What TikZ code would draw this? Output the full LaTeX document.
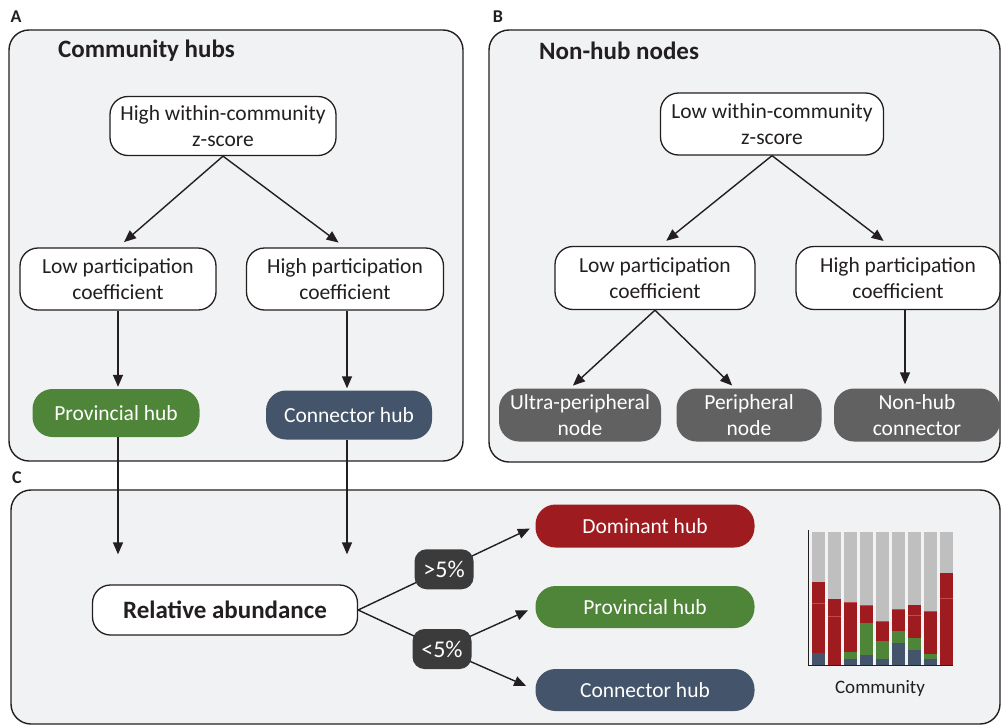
\documentclass[tikz,border=0pt]{standalone}
\usepackage{fontspec}
\setmainfont{Carlito}
\usetikzlibrary{arrows.meta}
\definecolor{hubred}{HTML}{9E1C20}
\definecolor{hubgreen}{HTML}{4F8538}
\definecolor{hubslate}{HTML}{44546A}
\definecolor{nodegrey}{HTML}{616161}
\definecolor{pillgrey}{HTML}{3B3B3B}
\definecolor{panelfill}{HTML}{F1F2F4}
\definecolor{bargrey}{HTML}{BFBFBF}
\definecolor{ink}{HTML}{231F20}
\definecolor{redline}{HTML}{C4474B}
\tikzset{
  panel/.style={draw=ink, line width=1.4pt, fill=panelfill, rounded corners=20pt},
  wbox/.style={draw=ink, line width=1.3pt, fill=white, rounded corners=18pt, align=center,
    font=\fontsize{21.5}{25.5}\selectfont, text=ink, inner sep=0pt},
  cbox/.style={rounded corners=20pt, align=center, font=\fontsize{21.5}{25.5}\selectfont,
    text=white, inner sep=0pt},
  pill/.style={fill=pillgrey, rounded corners=12pt, text=white, inner sep=0pt,
    minimum width=59pt, minimum height=40pt, font=\fontsize{24}{26}\selectfont},
  arr/.style={draw=ink, line width=1.4pt, -{Triangle[length=12pt,width=10pt]}},
  plain/.style={draw=ink, line width=1.4pt},
  title/.style={font=\fontsize{25}{28}\selectfont\bfseries, text=ink, inner sep=0pt},
  letter/.style={font=\fontsize{18}{20}\selectfont\bfseries, text=ink, inner sep=0pt},
}
\begin{document}
\begin{tikzpicture}[x=1pt,y=-1pt]
\useasboundingbox (0,0) rectangle (1001,726);
% panels
\draw[panel] (9,30) rectangle (463,461);
\draw[panel] (489,30) rectangle (1000,462);
\draw[panel] (11,490) rectangle (1000,724);
\node[letter] (la) at (16,17) {A};
\node[letter] (lb) at (498,17) {B};
\node[letter] (lc) at (17,478) {C};
\node[title, anchor=west] (ta) at (58,51) {Community hubs};
\node[title, anchor=west] (tb) at (539,51) {Non-hub nodes};

% Panel A
\node[wbox, minimum width=226pt, minimum height=59pt] (hz) at (223,126) {High within-community\\z-score};
\node[wbox, minimum width=196pt, minimum height=62pt] (alp) at (118,279) {Low participation\\coefficient};
\node[wbox, minimum width=197pt, minimum height=62pt] (ahp) at (345,279) {High participation\\coefficient};
\node[cbox, fill=hubgreen, minimum width=167pt, minimum height=48pt] (aph) at (116,413) {Provincial hub};
\node[cbox, fill=hubslate, minimum width=166pt, minimum height=49pt] (ach) at (349,415) {Connector hub};
\draw[arr, shorten >=8pt] (hz.south) -- (alp.north);
\draw[arr, shorten >=8pt] (hz.south) -- (ahp.north);
\draw[arr, shorten >=2pt] (alp.south) -- (alp.south |- aph.north);
\draw[arr, shorten >=2pt] (ahp.south -| ach.north) ++(-2,0) coordinate (ahs) -- (ahs |- ach.north);

% Panel B
\node[wbox, minimum width=223pt, minimum height=62pt] (lz) at (772,124) {Low within-community\\z-score};
\node[wbox, minimum width=200pt, minimum height=63pt] (blp) at (655,278) {Low participation\\coefficient};
\node[wbox, minimum width=204pt, minimum height=63pt] (bhp) at (898,278) {High participation\\coefficient};
\node[cbox, fill=nodegrey, minimum width=162pt, minimum height=53pt] (up) at (580,415) {Ultra-peripheral\\node};
\node[cbox, fill=nodegrey, minimum width=145pt, minimum height=53pt] (pn) at (749,415) {Peripheral\\node};
\node[cbox, fill=nodegrey, minimum width=166pt, minimum height=53pt] (nc) at (917,415) {Non-hub\\connector};
\draw[arr, shorten >=8pt] (lz.south) -- ([xshift=5pt]blp.north);
\draw[arr, shorten >=8pt] (lz.south) -- ([xshift=-8pt]bhp.north);
\draw[arr, shorten >=4pt] (blp.south) -- ([xshift=-10pt]up.north);
\draw[arr, shorten >=4pt] (blp.south) -- ([xshift=-14pt]pn.north);
\draw[arr, shorten >=4pt] ([xshift=7pt]bhp.south) -- ([xshift=7pt]bhp.south |- nc.north);

% Panel C
\node[wbox, minimum width=265pt, minimum height=50pt, font=\fontsize{25}{28}\selectfont\bfseries] (ra) at (225,610) {Relative abundance};
\node[cbox, fill=hubred, minimum width=219pt, minimum height=43pt] (dh) at (645,526) {Dominant hub};
\node[cbox, fill=hubgreen, minimum width=219pt, minimum height=42pt] (cph) at (645,607) {Provincial hub};
\node[cbox, fill=hubslate, minimum width=219pt, minimum height=42pt] (cch) at (645,690) {Connector hub};
\draw[arr, shorten >=30pt] (aph.south -| alp.south) -- (alp.south |- ra.north);
\draw[arr, shorten >=30pt] (ahs |- ach.south) -- (ahs |- ra.north);
\coordinate (p2c) at (442,649);
\draw[arr, shorten >=6pt] (ra.east) -- (dh.west) coordinate[pos=0.485] (p1c);
\draw[plain] (ra.east) -- (p2c);
\draw[arr, shorten >=8pt] (p2c) -- (cph.west);
\draw[arr, shorten >=10pt] (p2c) -- (cch.west);
\node[pill] (p1) at (p1c) {>5\%};
\node[pill] (p2) at (p2c) {<5\%};

% bar chart
\foreach \i/\r/\g/\s/\l in {0/581.7/653.3/653.3/603.3, 1/599/665/665/616.3, 2/602.7/652/659.3/602.7,
  3/605/623.3/654.7/605, 4/621.3/641/659.3/621.3, 5/609.7/631.3/642.7/609.7,
  6/605.3/638/650/615.3, 7/611.7/654/659.3/611.7, 8/573.3/665/665/598.3}{
  \pgfmathsetmacro{\xl}{811.7+16*\i}
  \pgfmathsetmacro{\xr}{\xl+13.3}
  \fill[bargrey] (\xl,531.7) rectangle (\xr,\r);
  \fill[hubred] (\xl,\r) rectangle (\xr,\g);
  \fill[hubgreen] (\xl,\g) rectangle (\xr,\s);
  \fill[hubslate] (\xl,\s) rectangle (\xr,665);
  \draw[redline, line width=0.6pt] (\xl,\l) -- (\xr,\l);
}
\coordinate (axtop) at (808.5,530);
\coordinate (axorig) at (808.5,665.5);
\coordinate (axright) at (953,665.5);
\draw[ink, line width=1.3pt] (axtop) -- (axorig) -- (axright);
\node[font=\fontsize{19}{22}\selectfont, text=ink] (comm) at (880,688) {Community};
\end{tikzpicture}
\end{document}
